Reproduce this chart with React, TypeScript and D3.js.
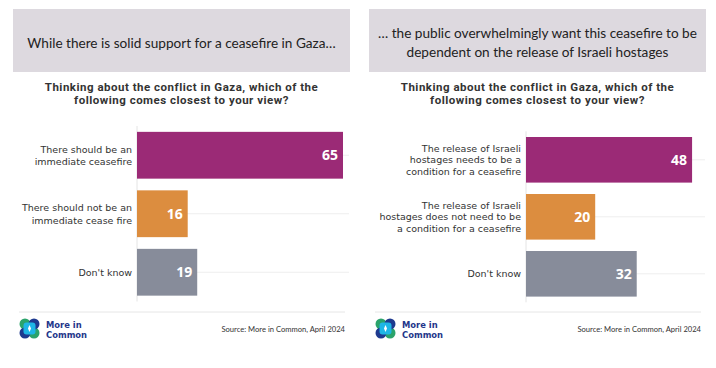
import * as d3 from "d3";

// ---- data ----
const leftHeader = ["While there is solid support for a ceasefire in Gaza…"];
const rightHeader = [
  "… the public overwhelmingly want this ceasefire to be",
  "dependent on the release of Israeli hostages",
];
const question = [
  "Thinking about the conflict in Gaza, which of the",
  "following comes closest to your view?",
];
const leftCategories = [
  ["There should be an", "immediate ceasefire"],
  ["There should not be an", "immediate cease fire"],
  ["Don't know"],
];
const leftValues = [65, 16, 19];
const rightCategories = [
  ["The release of Israeli", "hostages needs to be a", "condition for a ceasefire"],
  ["The release of Israeli", "hostages does not need to be", "a condition for a ceasefire"],
  ["Don't know"],
];
const rightValues = [48, 20, 32];
const barColors = ["#9B2A76", "#DC8D3F", "#878C9A"];
const sourceText = "Source: More in Common, April 2024";

const FONT = "Lato, 'Open Sans', sans-serif";
const FONT2 = "'Open Sans', Lato, sans-serif";
const FONT3 = "'DejaVu Sans', 'Open Sans', sans-serif";
const FONTQ = "Roboto, 'Open Sans', sans-serif";

interface PanelProps {
  x: number; // panel left
  w: number; // panel width
  header: string[];
  categories: string[][];
  values: number[];
  axisX: number;
  maxX: number;
  xMax: number;
  yRange: [number, number];
}

const Panel = ({ x, w, header, categories, values, axisX, maxX, xMax, yRange }: PanelProps) => {
  const cx = x + w / 2;
  const xs = d3.scaleLinear().domain([0, xMax]).range([axisX, maxX]);
  const ys = d3
    .scaleBand<number>()
    .domain(d3.range(values.length))
    .range(yRange)
    .paddingInner(0.2)
    .paddingOuter(0.1);
  const headerY = header.length === 1 ? [43] : [33, 52];

  return (
    <g>
      <rect x={x} y={9} width={w} height={63} fill="#DDD9DF" />
      {header.map((t, i) => (
        <text key={i} x={cx} y={headerY[i] + 5} textAnchor="middle" fontSize={13.6} fill="#222" fontFamily={FONT}>
          {t}
        </text>
      ))}
      {question.map((t, i) => (
        <text
          key={i}
          x={cx}
          y={90.5 + i * 13.6}
          textAnchor="middle"
          fontSize={11.5}
          fontWeight="bold"
          letterSpacing={0.5}
          fill="#333"
          fontFamily={FONTQ}
        >
          {t}
        </text>
      ))}
      {/* gridlines */}
      {values.map((_, i) => {
        const yc = (ys(i) as number) + ys.bandwidth() / 2;
        return <line key={i} x1={axisX} x2={maxX + 6} y1={yc} y2={yc} stroke="#EEEEEE" strokeWidth={1} />;
      })}
      <line x1={axisX} x2={axisX} y1={yRange[0]} y2={yRange[1]} stroke="#E4E4E4" strokeWidth={1} />
      {values.map((v, i) => {
        const y0 = ys(i) as number;
        const yc = y0 + ys.bandwidth() / 2;
        const lines = categories[i];
        const lh = lines.length === 3 ? 11.6 : 12.5;
        return (
          <g key={i}>
            <rect x={xs(0)} y={y0} width={xs(v) - xs(0)} height={ys.bandwidth()} fill={barColors[i]} />
            <text x={xs(v) - 5} y={yc + 5} textAnchor="end" fontSize={14} fontWeight="bold" fill="#fff" fontFamily={FONT2}>
              {v}
            </text>
            {lines.map((t, j) => (
              <text
                key={j}
                x={axisX - 5}
                y={yc + (j - (lines.length - 1) / 2) * lh + 3.5}
                textAnchor="end"
                fontSize={9.5}
                fill="#333"
                fontFamily={FONT3}
              >
                {t}
              </text>
            ))}
          </g>
        );
      })}
      {/* footer */}
      <line x1={x + 6} x2={x + w - 5} y1={312} y2={312} stroke="#E6E6E6" strokeWidth={1} />
      <Logo x={x + 6} y={318} />
      <text x={x + w - 5} y={332} textAnchor="end" fontSize={7.6} fill="#333" fontFamily={FONT}>
        {sourceText}
      </text>
    </g>
  );
};

const Logo = ({ x, y }: { x: number; y: number }) => (
  <g transform={`translate(${x},${y})`}>
    <circle cx={6} cy={6} r={5.5} fill="#2BA36B" />
    <circle cx={15} cy={15} r={5.5} fill="#2BA36B" />
    <circle cx={15} cy={6} r={5.5} fill="#1E3A8F" />
    <circle cx={6} cy={15} r={5.5} fill="#1E3A8F" />
    <rect x={4.5} y={4.5} width={12} height={12} rx={3} fill="#1EB6E6" />
    <path d="M10.5,7 L12,10.5 L10.5,14 L9,10.5 Z" fill="#fff" />
    <text x={27} y={10} fontSize={8.4} fontWeight="bold" fill="#24368A" fontFamily={FONT3}>More in</text>
    <text x={27} y={20} fontSize={8.4} fontWeight="bold" fill="#24368A" fontFamily={FONT3}>Common</text>
  </g>
);

export default function App() {
  return (
    <svg width={716} height={368} style={{ position: "absolute", left: 0, top: 0, background: "#fff" }}>
      <rect width={716} height={368} fill="#fff" />
      <Panel
        x={13}
        w={337}
        header={leftHeader}
        categories={leftCategories}
        values={leftValues}
        axisX={137}
        maxX={343}
        xMax={65}
        yRange={[126, 301.5]}
      />
      <Panel
        x={369}
        w={337}
        header={rightHeader}
        categories={rightCategories}
        values={rightValues}
        axisX={526}
        maxX={699}
        xMax={50}
        yRange={[131.3, 302.3]}
      />
    </svg>
  );
}
